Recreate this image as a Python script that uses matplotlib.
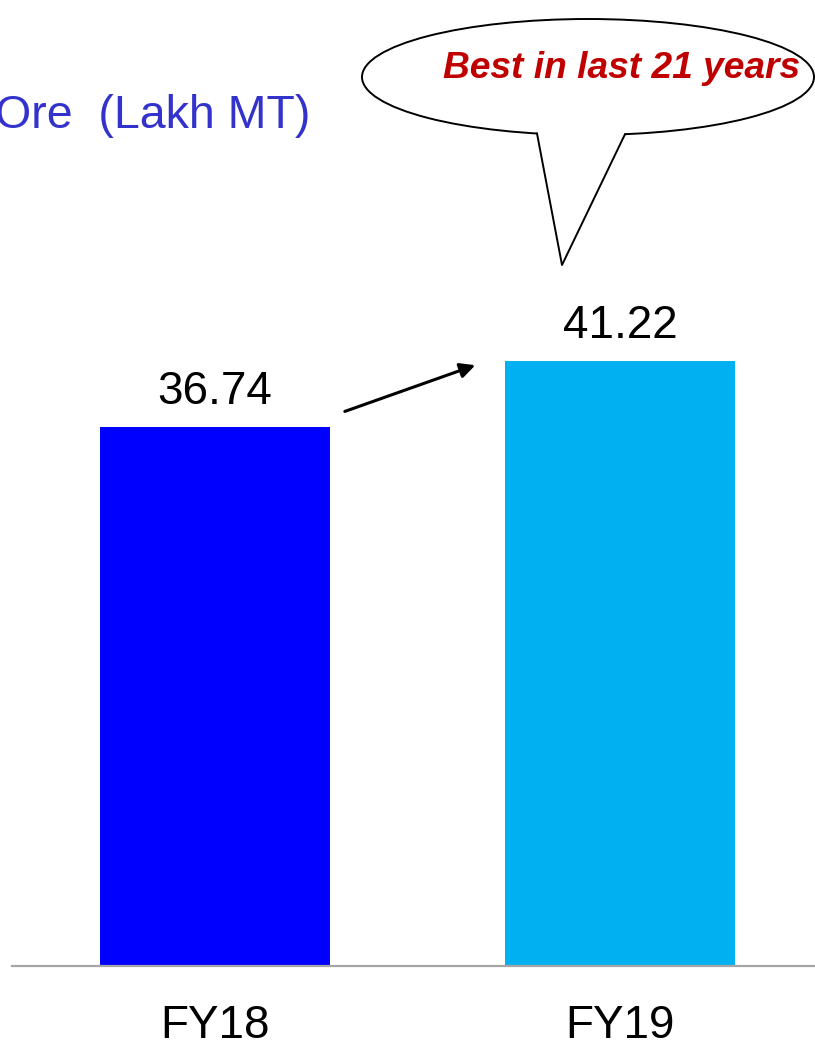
import numpy as np
import matplotlib.pyplot as plt
from matplotlib.patches import Ellipse, Polygon

plt.rcParams['font.family'] = ['Liberation Sans', 'DejaVu Sans']

years = ['FY18', 'FY19']
values = [36.74, 41.22]
colors = ['#0000FF', '#00B0F0']

fig = plt.figure(figsize=(8.15, 10.47), dpi=100)
ax = fig.add_axes([12 / 815, 81 / 1047, 803 / 815, 966 / 1047])

x = np.arange(len(years))
ax.bar(x, values, width=0.568, color=colors, zorder=2)
for xi, v in zip(x, values):
    ax.text(xi, v + 0.9, f'{v:.2f}', ha='center', va='bottom', fontsize=33)

ax.set_xlim(-0.501, 1.481)
ax.set_ylim(0, 65.85)
for s in ['top', 'right', 'left']:
    ax.spines[s].set_visible(False)
ax.spines['bottom'].set_color('#A6A6A6')
ax.spines['bottom'].set_linewidth(1.6)
ax.set_yticks([])
ax.set_xticks(x)
ax.set_xticklabels(years, fontsize=33)
ax.tick_params(axis='x', length=0, pad=27)

# growth arrow
ax.annotate('', xy=(0.649, values[1] - 0.2), xytext=(0.314, values[0] + 1.0),
            arrowprops=dict(arrowstyle='-|>,head_length=0.9,head_width=0.45',
                            color='black', lw=2.2))

# overlay in pixel coordinates for title and callout
ov = fig.add_axes([0, 0, 1, 1])
ov.set_xlim(0, 815)
ov.set_ylim(1047, 0)
ov.axis('off')
ov.patch.set_alpha(0)

ov.text(310, 116, 'Ore  (Lakh MT)', ha='right', va='center', fontsize=33.5,
        color='#3333CC')

ov.add_patch(Ellipse((588, 77), 452, 116, facecolor='white', edgecolor='black',
                     lw=1.4, zorder=2))
ov.add_patch(Polygon([(537, 122), (537, 133.5), (562, 265), (625, 134.2), (625, 122)],
                     closed=True, facecolor='white', edgecolor='none', zorder=3))
ov.plot([537, 562, 625], [133.5, 265, 134.2], color='black', lw=1.4, zorder=4)
ov.text(622, 69, 'Best in last 21 years', ha='center', va='center', fontsize=26.7,
        color='#C00000', fontweight='bold', fontstyle='italic', zorder=5)

fig.savefig('out.png', dpi=100)
